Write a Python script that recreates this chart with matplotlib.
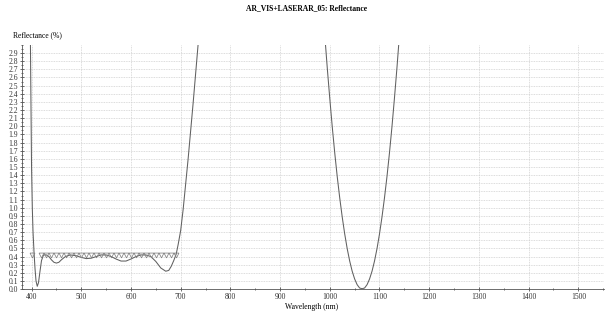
import matplotlib
matplotlib.use("Agg")
import matplotlib.pyplot as plt
from matplotlib.ticker import MultipleLocator

# visible AR band (nm, %)
vis_wavelength = [397.5, 398.5, 400, 401.5, 403, 405, 407, 409, 411.5, 414, 417, 420,
                  424, 430, 435, 440, 445, 450, 455, 460, 468, 478, 490, 500, 510,
                  520, 530, 540, 550, 560, 570, 580, 590, 600, 610, 620, 630, 640,
                  650, 660, 670, 676, 681, 686, 691, 695, 700, 705, 715, 725, 735, 738]
vis_reflect = [3.2, 2.5, 1.5, 1.0, 0.7, 0.45, 0.25, 0.1, 0.035, 0.08, 0.22, 0.35,
               0.42, 0.42, 0.40, 0.36, 0.33, 0.32, 0.33, 0.36, 0.40, 0.42, 0.41, 0.39, 0.375,
               0.38, 0.40, 0.42, 0.42, 0.40, 0.37, 0.345, 0.345, 0.37, 0.40, 0.42, 0.42, 0.40,
               0.34, 0.26, 0.22, 0.23, 0.28, 0.35, 0.43, 0.55, 0.72, 0.98, 1.6, 2.28, 3.0, 3.2]

# laser line band around 1064 nm
laser_wavelength = [988, 990, 995, 1000, 1005, 1010, 1015, 1020, 1025, 1030, 1035, 1040,
                    1045, 1050, 1055, 1060, 1065, 1070, 1075, 1080, 1085, 1090, 1095,
                    1100, 1105, 1110, 1115, 1120, 1125, 1130, 1135, 1140, 1143]
laser_reflect = [3.3, 3.11, 2.71, 2.34, 1.99, 1.67, 1.38, 1.12, 0.886, 0.678, 0.498, 0.346,
                 0.221, 0.125, 0.055, 0.014, 0.005, 0.014, 0.055, 0.125, 0.221, 0.346, 0.498,
                 0.678, 0.886, 1.12, 1.38, 1.67, 1.99, 2.34, 2.71, 3.11, 3.3]

# design targets
target_wavelength = [400] + list(range(420, 700, 10))
target_reflect = [0.42] * len(target_wavelength)

plt.rcParams['font.family'] = ['Liberation Serif', 'DejaVu Serif']

fig = plt.figure(figsize=(6.14, 3.16), dpi=100)
ax = fig.add_axes([0.036, 0.085, 0.948, 0.773])

ax.plot(vis_wavelength, vis_reflect, color="#606060", linewidth=0.75)
ax.plot(laser_wavelength, laser_reflect, color="#606060", linewidth=0.75)
ax.plot(target_wavelength, target_reflect, linestyle="none", marker="v",
        markersize=3.5, markerfacecolor="none", markeredgecolor="#808080",
        markeredgewidth=0.55)

ax.set_xlim(381, 1552)
ax.set_ylim(0, 3.0)
ax.xaxis.set_major_locator(MultipleLocator(100))
ax.xaxis.set_minor_locator(MultipleLocator(50))
ax.yaxis.set_minor_locator(MultipleLocator(0.05))
ax.set_yticks([i / 10 for i in range(30)])
ax.set_yticklabels([f"{i / 10:.1f}" for i in range(30)])

ax.grid(True, which="major", color="#d0d0d0", linestyle=(0, (1, 1)), linewidth=0.6)
ax.tick_params(which="both", direction="inout", labelsize=5.5, colors="#333333",
               width=0.5, pad=1.5)
ax.tick_params(which="major", length=3)
ax.tick_params(which="minor", length=2)
for side in ("top", "right"):
    ax.spines[side].set_visible(False)
for side in ("left", "bottom"):
    ax.spines[side].set_linewidth(0.6)
    ax.spines[side].set_color("#555555")

fig.text(0.5, 0.988, "AR_VIS+LASERAR_05: Reflectance", ha="center", va="top",
         fontsize=5.5, fontweight="bold")
fig.text(0.021, 0.89, "Reflectance (%)", ha="left", va="center", fontsize=5.5)
fig.text(0.508, 0.03, "Wavelength (nm)", ha="center", va="center", fontsize=5.5)

fig.savefig("out.png", dpi=100)
